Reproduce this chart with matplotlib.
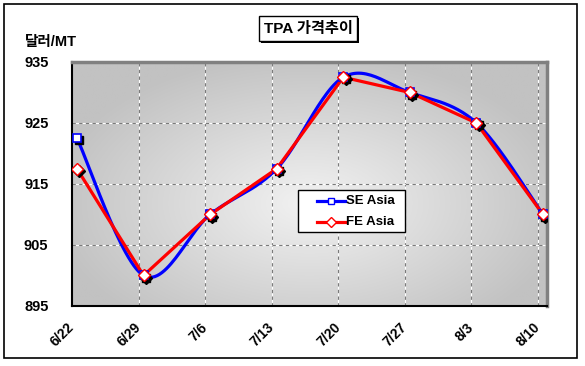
import numpy as np
import matplotlib
matplotlib.use('Agg')
import matplotlib.pyplot as plt
import matplotlib.patches as mpatches
import matplotlib.transforms as mtransforms
from matplotlib.lines import Line2D

# ==========================================
# DATOS
# ==========================================
weeks = ['6/22', '6/29', '7/6', '7/13', '7/20', '7/27', '8/3', '8/10']
se_asia = [922.5, 900, 910, 917.5, 932.5, 930, 925, 910]
fe_asia = [917.5, 900, 910, 917.5, 932.5, 930, 925, 910]
y_ticks = [895, 905, 915, 925, 935]
series_names = ['SE Asia', 'FE Asia']

plt.rcParams['font.family'] = ['Liberation Sans', 'Noto Sans CJK KR', 'DejaVu Sans']

W, H = 585, 366
fig = plt.figure(figsize=(W / 100, H / 100), dpi=100)
fig.patch.set_facecolor('white')


def fx(v):
    return v / W


def fy(v):
    # pixel desde arriba -> fraccion de figura
    return 1 - v / H


ax = fig.add_axes([fx(72), fy(306), fx(547 - 72), (306 - 62) / H])
off = 0.075
x = np.arange(len(weeks))
ax.set_xlim(-off, len(weeks) - 1 + 0.06)
ax.set_ylim(895, 935)

# fondo degradado
gx, gy = np.meshgrid(np.linspace(0, 1, 300), np.linspace(0, 1, 200))
d = np.sqrt(((gx - 0.5) / 0.55) ** 2 + ((gy - 0.42) / 0.62) ** 2)
d = np.clip(d, 0, 1)
g = (242 - 48 * d) / 255
img = np.dstack([g, g, g])
ax.imshow(img, extent=(0, 1, 0, 1), transform=ax.transAxes, aspect='auto',
          origin='lower', zorder=0, interpolation='bilinear')

# rejilla
for xv in x[1:] - off:
    ax.axvline(xv, color='white', lw=0.8, zorder=1)
    ax.axvline(xv, color='#7a7a7a', lw=0.8, ls=(0, (3, 3)), zorder=1)
for yv in y_ticks[1:-1]:
    ax.axhline(yv, color='white', lw=0.8, zorder=1)
    ax.axhline(yv, color='#7a7a7a', lw=0.8, ls=(0, (3, 3)), zorder=1)


def smooth(xs, ys, n=30):
    p = np.column_stack([xs, ys]).astype(float)
    out = []
    for i in range(len(p) - 1):
        p0 = p[i - 1] if i > 0 else p[i]
        p1, p2 = p[i], p[i + 1]
        p3 = p[i + 2] if i + 2 < len(p) else p[i + 1]
        c1 = p1 + (p2 - p0) / 6
        c2 = p2 - (p3 - p1) / 6
        t = np.linspace(0, 1, n)[:, None]
        seg = (1 - t) ** 3 * p1 + 3 * (1 - t) ** 2 * t * c1 + 3 * (1 - t) * t ** 2 * c2 + t ** 3 * p2
        out.append(seg if i == 0 else seg[1:])
    out = np.vstack(out)
    return out[:, 0], out[:, 1]


sx, sy = smooth(x, se_asia)
ax.plot(sx, sy, color='#0000ff', lw=2.3, zorder=3, solid_capstyle='butt')
ax.plot(x, fe_asia, color='#ff0000', lw=2.3, zorder=4)

shadow = mtransforms.offset_copy(ax.transData, fig=fig, x=1.6, y=-1.6, units='points')
ax.plot(x, se_asia, 's', ms=6, color='black', transform=shadow, zorder=5)
ax.plot(x, fe_asia, 'D', ms=6.5, color='black', transform=shadow, zorder=5)
ax.plot(x, se_asia, 's', ms=6, mfc='white', mec='#0000ff', mew=1.2, zorder=6)
ax.plot(x, fe_asia, 'D', ms=6.5, mfc='white', mec='#ff0000', mew=1.0, zorder=7)

# ejes
ax.set_xticks(x - off)
ax.set_xticklabels(weeks, rotation=45, ha='right', va='center', rotation_mode='anchor',
                   fontsize=10, fontweight='bold')
ax.set_yticks(y_ticks)
ax.set_yticklabels([str(v) for v in y_ticks], fontsize=10.5, fontweight='bold')
ax.tick_params(axis='x', length=0, pad=14)
ax.tick_params(axis='y', length=0, pad=17)
for s in ['left', 'bottom']:
    ax.spines[s].set_color('black')
    ax.spines[s].set_linewidth(1.5)
for s in ['top', 'right']:
    ax.spines[s].set_color('#808080')
    ax.spines[s].set_linewidth(2.5)

# leyenda (dibujada a mano en pixeles de figura)
fig.patches.append(mpatches.Rectangle((fx(298), fy(232)), fx(107), 42 / H,
                                      transform=fig.transFigure, facecolor='white',
                                      edgecolor='black', lw=1.0, zorder=10))
leg_styles = [('#0000ff', 's', 4.5), ('#ff0000', 'D', 5)]
for i, (name, (col, mk, ms)) in enumerate(zip(series_names, leg_styles)):
    yy = fy(201 + i * 21.5)
    fig.add_artist(Line2D([fx(317), fx(345)], [yy, yy], transform=fig.transFigure,
                          color=col, lw=2.3, zorder=11))
    fig.add_artist(Line2D([fx(331)], [yy], transform=fig.transFigure, marker=mk, ms=ms,
                          mfc='white', mec=col, mew=1.0, zorder=12))
    fig.text(fx(346), yy, name, ha='left', va='center', fontsize=9.5,
             fontweight='bold', zorder=12)

# titulo con sombra
fig.patches.append(mpatches.Rectangle((fx(261), fy(43)), fx(98), 25 / H,
                                      transform=fig.transFigure, facecolor='black',
                                      edgecolor='none', zorder=1))
fig.patches.append(mpatches.Rectangle((fx(259), fy(41)), fx(98), 25 / H,
                                      transform=fig.transFigure, facecolor='white',
                                      edgecolor='black', lw=1, zorder=2))
fig.text(fx(308), fy(29), 'TPA 가격추이', ha='center', va='center',
         fontsize=11, fontweight='bold', zorder=3)

fig.text(fx(25), fy(42), '달러/MT', ha='left', va='center', fontsize=10.5, fontweight='bold')

# marco exterior
fig.patches.append(mpatches.Rectangle((fx(4), fy(358)), fx(573), 354 / H,
                                      transform=fig.transFigure, facecolor='none',
                                      edgecolor='black', lw=1.2))

fig.savefig('out.png', dpi=100, facecolor='white')
